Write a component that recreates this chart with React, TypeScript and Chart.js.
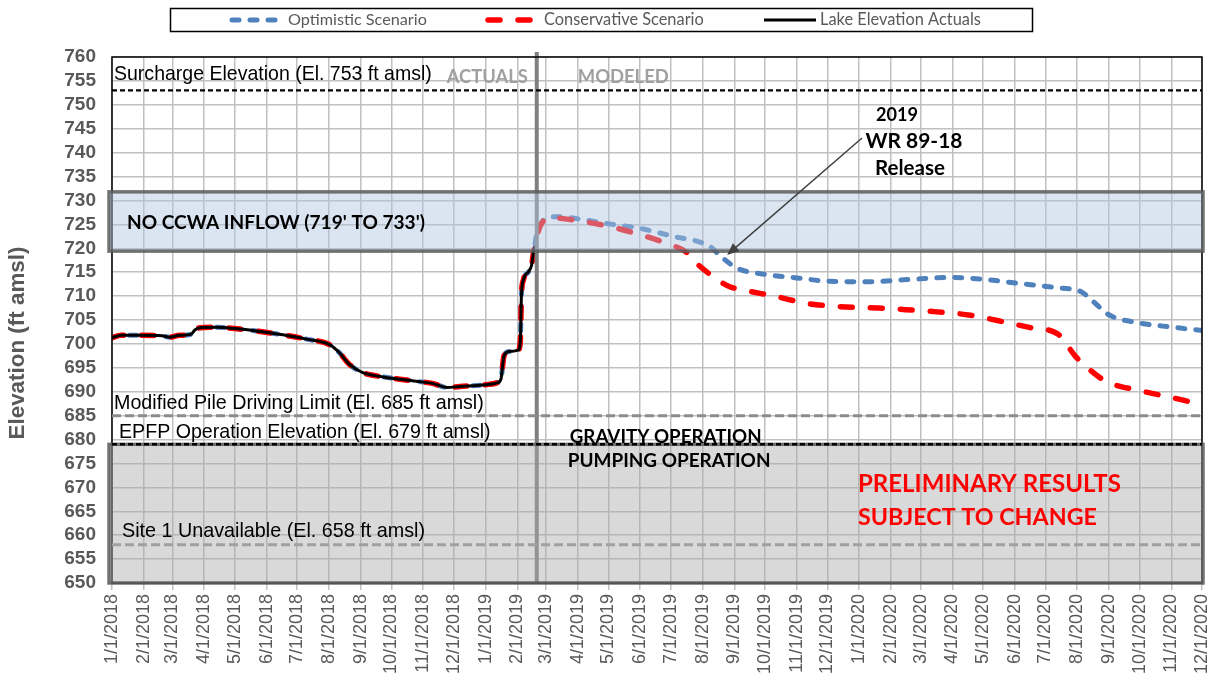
import React, { useEffect, useRef } from "react";
import { Chart, registerables } from "chart.js";

Chart.register(...registerables);

// ---------------- DATA ----------------
const xTickLabels = [
  "1/1/2018", "2/1/2018", "3/1/2018", "4/1/2018", "5/1/2018", "6/1/2018",
  "7/1/2018", "8/1/2018", "9/1/2018", "10/1/2018", "11/1/2018", "12/1/2018",
  "1/1/2019", "2/1/2019", "3/1/2019", "4/1/2019", "5/1/2019", "6/1/2019",
  "7/1/2019", "8/1/2019", "9/1/2019", "10/1/2019", "11/1/2019", "12/1/2019",
  "1/1/2020", "2/1/2020", "3/1/2020", "4/1/2020", "5/1/2020", "6/1/2020",
  "7/1/2020", "8/1/2020", "9/1/2020", "10/1/2020", "11/1/2020", "12/1/2020",
];

const yMin = 650;
const yMax = 760;
const yStep = 5;

const actualDates = [
  "1/1/2018", "1/10/2018", "1/28/2018", "2/19/2018", "2/26/2018", "3/8/2018",
  "3/19/2018", "3/23/2018", "3/28/2018", "4/13/2018", "5/6/2018", "5/22/2018",
  "6/17/2018", "7/10/2018", "8/2/2018", "8/11/2018", "8/21/2018", "9/3/2018",
  "9/23/2018", "10/25/2018", "11/11/2018", "11/24/2018", "12/7/2018", "12/29/2018",
  "1/13/2019", "1/16/2019", "1/19/2019", "1/24/2019", "2/2/2019", "2/4/2019",
  "2/5/2019", "2/7/2019", "2/12/2019", "2/15/2019", "2/17/2019", "2/18/2019",
];
const actualValues = [
  701.3, 701.8, 701.8, 701.7, 701.4, 701.8,
  702.0, 702.9, 703.4, 703.5, 703.1, 702.7,
  701.9, 701.0, 699.8, 698.2, 695.7, 694.0,
  693.1, 692.2, 691.7, 690.9, 691.1, 691.4,
  691.9, 692.6, 697.5, 698.4, 698.7, 700.8,
  709.9, 713.4, 715.1, 716.5, 719.3, 720.5,
];

const optimisticDates = [
  "2/20/2019", "2/25/2019", "3/5/2019", "3/14/2019", "4/3/2019", "5/5/2019",
  "5/31/2019", "7/1/2019", "8/8/2019", "8/18/2019", "9/3/2019", "9/29/2019",
  "11/1/2019", "12/3/2019", "1/11/2020", "2/13/2020", "4/2/2020", "5/6/2020",
  "6/7/2020", "7/10/2020", "8/5/2020", "8/15/2020", "9/1/2020", "9/30/2020",
  "11/2/2020", "12/1/2020",
];
const optimisticValues = [
  723.0, 725.5, 726.5, 726.6, 726.1, 725.0,
  724.2, 722.6, 720.4, 718.5, 715.9, 714.6,
  713.8, 713.1, 713.0, 713.4, 713.9, 713.4,
  712.6, 711.8, 710.9, 709.2, 706.1, 704.4,
  703.5, 702.8,
];

const conservativeDates = [
  "2/20/2019", "2/25/2019", "3/5/2019", "4/3/2019", "5/5/2019", "5/31/2019",
  "6/30/2019", "7/16/2019", "7/26/2019", "8/11/2019", "8/27/2019", "9/9/2019",
  "10/12/2019", "11/10/2019", "12/13/2019", "1/20/2020", "2/13/2020", "3/17/2020",
  "4/19/2020", "5/15/2020", "6/14/2020", "7/13/2020", "7/19/2020", "7/30/2020",
  "8/9/2020", "8/29/2020", "9/30/2020", "11/3/2020", "12/1/2020",
];
const conservativeValues = [
  722.5, 725.3, 726.4, 725.7, 724.4, 722.9,
  720.8, 719.2, 716.9, 714.1, 712.0, 711.3,
  709.9, 708.5, 707.8, 707.5, 707.2, 706.7,
  706.0, 704.9, 703.5, 702.1, 700.7, 697.5,
  695.4, 692.2, 690.3, 688.7, 687.3,
];

const seriesNames = ["Optimistic Scenario", "Conservative Scenario", "Lake Elevation Actuals"];
const seriesColors = ["#4F81BD", "#FF0000", "#000000"];

const refLineValues = [753, 685, 679, 658];
const refLineLabels = [
  "Surcharge Elevation (El. 753 ft amsl)",
  "Modified Pile Driving Limit (El. 685 ft amsl)",
  "EPFP Operation Elevation (El. 679 ft amsl)",
  "Site 1 Unavailable (El. 658 ft amsl)",
];
const inflowBand = [719.4, 731.8];
const inflowLabel = "NO CCWA INFLOW (719' TO 733')";
const pumpingBand = [650, 679];
const dividerDate = "2/20/2019";
const releaseDate = "8/25/2019";
const releaseValue = 718.6;
const releaseLabel = ["2019", "WR 89-18", "Release"];

// ---------------- HELPERS ----------------
const BASE = Date.UTC(2018, 0, 1);
function dayOf(s: string): number {
  const [m, d, y] = s.split("/").map(Number);
  return Math.round((Date.UTC(y, m - 1, d) - BASE) / 86400000);
}
const tickDays = xTickLabels.map(dayOf);
const labelMap = new Map<number, string>();
xTickLabels.forEach((l, i) => labelMap.set(tickDays[i], l));

const toPts = (dates: string[], vals: number[]) => dates.map((d, i) => ({ x: dayOf(d), y: vals[i] }));
const actualPts = toPts(actualDates, actualValues);
const optimisticPts = actualPts.concat(toPts(optimisticDates, optimisticValues));
const conservativePts = actualPts.concat(toPts(conservativeDates, conservativeValues));

const ARIAL = '"Liberation Sans", Arial, sans-serif';
const CALIBRI = 'Lato, "Open Sans", sans-serif';
const GRAY_TXT = "#595959";

const DASH_BLUE = [7, 11];
const DASH_RED = [12, 18];

function fitFont(ctx: CanvasRenderingContext2D, text: string, weight: string, family: string, w: number) {
  ctx.font = `${weight} 100px ${family}`;
  const m = ctx.measureText(text).width;
  const size = (100 * w) / m;
  ctx.font = `${weight} ${size.toFixed(2)}px ${family}`;
}

function text(ctx: CanvasRenderingContext2D, s: string, x: number, y: number, w: number, weight: string, family: string, color: string, align: CanvasTextAlign = "left") {
  fitFont(ctx, s, weight, family, w);
  ctx.fillStyle = color;
  ctx.textAlign = align;
  ctx.textBaseline = "middle";
  ctx.fillText(s, x, y);
}

const overlayPlugin = {
  id: "overlay",
  afterDatasetsDraw(chart: any) {
    const { ctx, chartArea: ca, scales } = chart;
    const xs = scales.x;
    const ys = scales.y;
    const px = (d: string) => xs.getPixelForValue(dayOf(d));
    const py = (v: number) => ys.getPixelForValue(v);
    ctx.save();

    // divider
    const dx = px(dividerDate);
    ctx.setLineDash([]);
    ctx.strokeStyle = "#808080";
    ctx.lineWidth = 4;
    ctx.beginPath();
    ctx.moveTo(dx, ca.top - 5);
    ctx.lineTo(dx, ca.bottom);
    ctx.stroke();

    // plot border
    ctx.strokeStyle = "#000";
    ctx.lineWidth = 1.5;
    ctx.strokeRect(ca.left, ca.top, ca.right - ca.left, ca.bottom - ca.top);

    const bx0 = ca.left - 3;
    const bx1 = ca.right + 1;
    // inflow band
    const bt = py(inflowBand[1]);
    const bb = py(inflowBand[0]);
    ctx.fillStyle = "rgba(176,198,224,0.45)";
    ctx.fillRect(bx0, bt, bx1 - bx0, bb - bt);
    // pumping band
    const gt = py(pumpingBand[1]);
    const gb = py(pumpingBand[0]);
    ctx.fillStyle = "rgba(171,171,171,0.45)";
    ctx.fillRect(bx0, gt, bx1 - bx0, gb - gt);

    ctx.strokeStyle = "rgba(90,90,90,0.85)";
    ctx.lineWidth = 3.5;
    ctx.strokeRect(bx0, bt, bx1 - bx0, bb - bt);
    ctx.strokeRect(bx0, gt, bx1 - bx0, gb - gt);

    // reference lines
    const refStyles = [
      { c: "#000", w: 2.2, d: [5, 3] },
      { c: "#8C8C8C", w: 3, d: [9, 4] },
      { c: "#000", w: 2.5, d: [5, 3] },
      { c: "#A0A0A0", w: 3, d: [9, 4] },
    ];
    refLineValues.forEach((v, i) => {
      const st = refStyles[i];
      ctx.strokeStyle = st.c;
      ctx.lineWidth = st.w;
      ctx.setLineDash(st.d);
      ctx.beginPath();
      ctx.moveTo(ca.left, py(v));
      ctx.lineTo(ca.right, py(v));
      ctx.stroke();
    });
    ctx.setLineDash([]);

    // reference labels
    text(ctx, refLineLabels[0], ca.left + 2, py(756.3), 318, "normal", ARIAL, "#000");
    text(ctx, refLineLabels[1], ca.left + 2, py(687.6), 370, "normal", ARIAL, "#000");
    text(ctx, refLineLabels[2], ca.left + 7, py(681.4), 372, "normal", ARIAL, "#000");
    text(ctx, refLineLabels[3], ca.left + 10, py(660.7), 303, "normal", ARIAL, "#000");

    // actuals / modeled
    text(ctx, "ACTUALS", dx - 9, py(755.9), 81, "bold", CALIBRI, "#A0A0A0", "right");
    text(ctx, "MODELED", dx + 41, py(755.9), 91, "bold", CALIBRI, "#A0A0A0");

    // inflow label
    text(ctx, inflowLabel, ca.left + 15, py(725.3), 298, "bold", CALIBRI, "#000");

    // operations
    text(ctx, "GRAVITY OPERATION", dx + 33, py(680.5), 192, "bold", CALIBRI, "#000");
    text(ctx, "PUMPING OPERATION", dx + 31, py(675.5), 203, "bold", CALIBRI, "#000");

    // preliminary
    text(ctx, "PRELIMINARY RESULTS", 858, py(670.7), 263, "bold", CALIBRI, "#FF0000");
    text(ctx, "SUBJECT TO CHANGE", 858, py(663.8), 239, "bold", CALIBRI, "#FF0000");

    // release annotation
    const rcx = 912;
    text(ctx, releaseLabel[0], rcx - 15, py(747.9), 42, "bold", CALIBRI, "#000", "center");
    text(ctx, releaseLabel[1], rcx + 2, py(742.4), 97, "bold", CALIBRI, "#000", "center");
    text(ctx, releaseLabel[2], rcx - 2, py(736.8), 70, "bold", CALIBRI, "#000", "center");

    // arrow
    const tx = px(releaseDate);
    const ty = py(releaseValue);
    const sx = 862;
    const sy = 138;
    const ang = Math.atan2(ty - sy, tx - sx);
    const hl = 12;
    const hw = 5;
    ctx.strokeStyle = "#404040";
    ctx.fillStyle = "#404040";
    ctx.lineWidth = 1.5;
    ctx.beginPath();
    ctx.moveTo(sx, sy);
    ctx.lineTo(tx - Math.cos(ang) * hl * 0.8, ty - Math.sin(ang) * hl * 0.8);
    ctx.stroke();
    ctx.beginPath();
    ctx.moveTo(tx, ty);
    ctx.lineTo(tx - Math.cos(ang) * hl - Math.sin(ang) * hw, ty - Math.sin(ang) * hl + Math.cos(ang) * hw);
    ctx.lineTo(tx - Math.cos(ang) * hl + Math.sin(ang) * hw, ty - Math.sin(ang) * hl - Math.cos(ang) * hw);
    ctx.closePath();
    ctx.fill();

    // y axis title
    ctx.save();
    ctx.translate(18, 343);
    ctx.rotate(-Math.PI / 2);
    text(ctx, "Elevation (ft amsl)", 0, 0, 193, "bold", ARIAL, GRAY_TXT, "center");
    ctx.restore();

    // legend
    ctx.strokeStyle = "#000";
    ctx.lineWidth = 1.5;
    ctx.strokeRect(170.5, 8.5, 862, 23);
    const ly = 20;
    ctx.lineCap = "round";
    ctx.strokeStyle = seriesColors[0];
    ctx.lineWidth = 5;
    ctx.setLineDash(DASH_BLUE);
    ctx.beginPath();
    ctx.moveTo(232, ly);
    ctx.lineTo(281, ly);
    ctx.stroke();
    ctx.strokeStyle = seriesColors[1];
    ctx.lineWidth = 5.5;
    ctx.setLineDash(DASH_RED);
    ctx.beginPath();
    ctx.moveTo(488, ly);
    ctx.lineTo(537, ly);
    ctx.stroke();
    ctx.setLineDash([]);
    ctx.lineCap = "butt";
    ctx.strokeStyle = seriesColors[2];
    ctx.lineWidth = 3;
    ctx.beginPath();
    ctx.moveTo(764, ly);
    ctx.lineTo(816, ly);
    ctx.stroke();
    text(ctx, seriesNames[0], 288, ly, 139, "normal", CALIBRI, GRAY_TXT);
    text(ctx, seriesNames[1], 544, ly, 160, "normal", CALIBRI, GRAY_TXT);
    text(ctx, seriesNames[2], 820, ly, 161, "normal", CALIBRI, GRAY_TXT);

    ctx.restore();
  },
};

export default function App() {
  const ref = useRef<HTMLCanvasElement>(null);
  useEffect(() => {
    document.body.style.margin = "0";
    const canvas = ref.current;
    if (!canvas) return;
    const chart = new Chart(canvas, {
      type: "line",
      data: {
        datasets: [
          {
            label: seriesNames[0],
            data: optimisticPts,
            borderColor: seriesColors[0],
            borderWidth: 5,
            borderDash: DASH_BLUE,
            borderCapStyle: "round",
            pointRadius: 0,
            cubicInterpolationMode: "monotone",
            order: 3,
          },
          {
            label: seriesNames[1],
            data: conservativePts,
            borderColor: seriesColors[1],
            borderWidth: 5.5,
            borderDash: DASH_RED,
            borderCapStyle: "round",
            pointRadius: 0,
            cubicInterpolationMode: "monotone",
            order: 2,
          },
          {
            label: seriesNames[2],
            data: actualPts,
            borderColor: seriesColors[2],
            borderWidth: 3,
            pointRadius: 0,
            cubicInterpolationMode: "monotone",
            order: 1,
          },
        ],
      } as any,
      options: {
        animation: false,
        responsive: false,
        maintainAspectRatio: false,
        layout: { padding: { left: 0, right: 12, top: 57, bottom: 0 } },
        plugins: { legend: { display: false }, tooltip: { enabled: false } },
        scales: {
          x: {
            type: "linear",
            min: tickDays[0],
            max: tickDays[tickDays.length - 1],
            afterBuildTicks: (s: any) => {
              s.ticks = tickDays.map((v) => ({ value: v }));
            },
            afterFit: (s: any) => {
              s.height = 103;
              s.paddingLeft = 0;
              s.paddingRight = 0;
            },
            ticks: {
              autoSkip: false,
              maxRotation: 90,
              minRotation: 90,
              padding: 4,
              color: GRAY_TXT,
              font: { family: ARIAL, size: 18 },
              callback: (v: any) => labelMap.get(Number(v)) ?? "",
            },
            grid: { color: "#C0C0C0", lineWidth: 1.5, tickLength: 7 },
            border: { display: false },
          },
          y: {
            min: yMin,
            max: yMax,
            afterFit: (s: any) => {
              s.width = 112;
              s.paddingTop = 0;
              s.paddingBottom = 0;
            },
            ticks: {
              stepSize: yStep,
              autoSkip: false,
              padding: 16,
              color: GRAY_TXT,
              font: { family: ARIAL, size: 19, weight: "bold" },
            },
            grid: { color: "#C0C0C0", lineWidth: 1.5, drawTicks: false },
            border: { display: false },
          },
        },
      } as any,
      plugins: [overlayPlugin],
    });
    return () => chart.destroy();
  }, []);
  return (
    <div style={{ width: 1214, height: 686 }}>
      <canvas ref={ref} width={1214} height={686} style={{ display: "block", width: 1214, height: 686 }} />
    </div>
  );
}
